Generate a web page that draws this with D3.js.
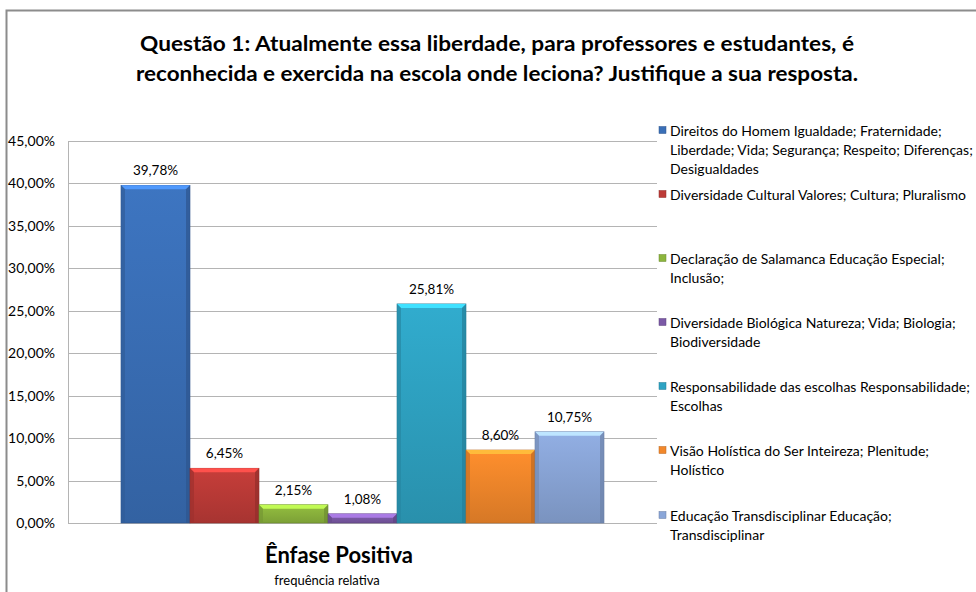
<!DOCTYPE html>
<html>
<head>
<meta charset="utf-8">
<script src="https://cdn.jsdelivr.net/npm/d3@7"></script>
<style>
  body { margin: 0; background: #fff; }
  svg { display: block; font-family: Lato, "Open Sans", sans-serif; }
</style>
</head>
<body>
<script>
const w = 976;
const h = 592;

// data
const legendLines = [
  ["Direitos do Homem Igualdade; Fraternidade;", "Liberdade; Vida; Segurança; Respeito; Diferenças;", "Desigualdades"],
  ["Diversidade Cultural Valores; Cultura; Pluralismo"],
  ["Declaração de Salamanca Educação Especial;", "Inclusão;"],
  ["Diversidade Biológica Natureza; Vida; Biologia;", "Biodiversidade"],
  ["Responsabilidade das escolhas Responsabilidade;", "Escolhas"],
  ["Visão Holística do Ser Inteireza;  Plenitude;", "Holístico"],
  ["Educação Transdisciplinar Educação;", "Transdisciplinar"]
];
const values = [39.78, 6.45, 2.15, 1.08, 25.81, 8.60, 10.75];
const colors = ["#3a6fb7", "#bd3b37", "#8cb53d", "#7b59a6", "#2ea3c3", "#f2882b", "#8aa6d8"];
const yTicks = [0, 5, 10, 15, 20, 25, 30, 35, 40, 45];
const title = [
  "Questão 1: Atualmente essa liberdade, para professores e estudantes, é",
  "reconhecida e exercida na escola onde leciona? Justifique a sua resposta."
];
const groupLabel = "Ênfase Positiva";
const axisTitle = "frequência relativa";

const fmt = (v) => v.toFixed(2).replace(".", ",") + "%";

// SVG

const svg = d3.select("body").append("svg").attr("width", w).attr("height", h);

// chart border
svg.append("rect")
  .attr("x", 6.5).attr("y", 10.5)
  .attr("width", w + 10).attr("height", h + 10)
  .attr("fill", "none").attr("stroke", "#8c8c8c").attr("stroke-width", 2);

// Title
svg.append("g")
  .selectAll("text")
  .data(title)
  .join("text")
  .attr("x", 497)
  .attr("y", (d, i) => 51 + i * 30)
  .attr("text-anchor", "middle")
  .attr("font-weight", "bold")
  .attr("font-size", 21.5)
  .attr("fill", "#000")
  .text((d) => d)
  .attr("textLength", (d, i) => (i === 0 ? 714 : 722))
  .attr("lengthAdjust", "spacingAndGlyphs");

// Scales

const plot = { left: 68, right: 657, top: 141, bottom: 523 };

const y = d3.scaleLinear().domain([0, 45]).range([plot.bottom, plot.top]);

const x = d3.scaleBand()
  .domain(d3.range(values.length))
  .range([121, 604])
  .paddingInner(0);

// Grid

svg.append("g")
  .selectAll("line")
  .data(yTicks)
  .join("line")
  .attr("x1", plot.left)
  .attr("x2", plot.right)
  .attr("y1", (d) => Math.round(y(d)) + 0.5)
  .attr("y2", (d) => Math.round(y(d)) + 0.5)
  .attr("stroke", "#b4b4b4")
  .attr("stroke-width", 1);

svg.append("line")
  .attr("x1", plot.left + 0.5).attr("x2", plot.left + 0.5)
  .attr("y1", plot.top).attr("y2", plot.bottom + 0.5)
  .attr("stroke", "#b4b4b4");

// Y axis labels

const yAxis = d3.axisLeft(y).tickValues(yTicks).tickSize(0).tickPadding(13)
  .tickFormat((d) => fmt(d));

svg.append("g")
  .attr("transform", `translate(${plot.left},0)`)
  .call(yAxis)
  .call((g) => g.select(".domain").remove())
  .selectAll("text")
  .attr("font-family", "Lato, sans-serif")
  .attr("font-size", 14)
  .attr("fill", "#000");

// Gradients

const defs = svg.append("defs");

colors.forEach((c, i) => {
  const g = defs.append("linearGradient")
    .attr("id", "grad" + i)
    .attr("x1", 0).attr("y1", 0).attr("x2", 0).attr("y2", 1);
  g.append("stop").attr("offset", "0%").attr("stop-color", d3.color(c).brighter(0.15));
  g.append("stop").attr("offset", "100%").attr("stop-color", d3.color(c).darker(0.35));
});

// Bars

const bars = svg.append("g")
  .selectAll("g")
  .data(values)
  .join("g");

bars.append("rect")
  .attr("x", (d, i) => x(i))
  .attr("y", (d) => y(d))
  .attr("width", x.bandwidth())
  .attr("height", (d) => y(0) - y(d))
  .attr("fill", (d, i) => `url(#grad${i})`)
  .attr("stroke", (d, i) => d3.color(colors[i]).darker(0.8))
  .attr("stroke-width", 0.6);

// bevel: top highlight strip
bars.append("path")
  .attr("d", (d, i) => {
    const x0 = x(i), x1 = x(i) + x.bandwidth(), y0 = y(d), b = Math.min(4, (y(0) - y(d)) / 2);
    return `M${x0},${y0}L${x1},${y0}L${x1 - b},${y0 + b}L${x0 + b},${y0 + b}Z`;
  })
  .attr("fill", (d, i) => d3.color(colors[i]).brighter(0.9));

// bevel: side shading
bars.append("path")
  .attr("d", (d, i) => {
    const x0 = x(i), y0 = y(d), y1 = y(0), b = Math.min(4, (y1 - y0) / 2);
    return `M${x0},${y0}L${x0 + b},${y0 + b}L${x0 + b},${y1}L${x0},${y1}Z`;
  })
  .attr("fill", (d, i) => d3.color(colors[i]).darker(0.5))
  .attr("opacity", 0.7);

bars.append("path")
  .attr("d", (d, i) => {
    const x1 = x(i) + x.bandwidth(), y0 = y(d), y1 = y(0), b = Math.min(4, (y1 - y0) / 2);
    return `M${x1},${y0}L${x1 - b},${y0 + b}L${x1 - b},${y1}L${x1},${y1}Z`;
  })
  .attr("fill", (d, i) => d3.color(colors[i]).darker(0.7))
  .attr("opacity", 0.7);

// Value labels

bars.append("text")
  .attr("x", (d, i) => x(i) + x.bandwidth() / 2)
  .attr("y", (d) => y(d) - 10)
  .attr("text-anchor", "middle")
  .attr("font-size", 13.5)
  .attr("fill", "#000")
  .text((d) => fmt(d));

// X axis label

svg.append("text")
  .attr("x", 339).attr("y", 563)
  .attr("text-anchor", "middle")
  .attr("font-weight", "bold")
  .attr("font-size", 22)
  .text(groupLabel);

svg.append("text")
  .attr("x", 327).attr("y", 585)
  .attr("text-anchor", "middle")
  .attr("font-size", 13)
  .text(axisTitle);

// Legend

const legendY = [131, 195, 259, 323, 387, 451, 516];

const legend = svg.append("g")
  .selectAll("g")
  .data(legendLines)
  .join("g")
  .attr("transform", (d, i) => `translate(659,${legendY[i]})`);

legend.append("rect")
  .attr("x", 0).attr("y", -4.5)
  .attr("width", 7).attr("height", 7)
  .attr("fill", (d, i) => colors[i])
  .attr("stroke", (d, i) => d3.color(colors[i]).darker(0.8))
  .attr("stroke-width", 0.5);

legend.append("text")
  .attr("font-size", 14)
  .attr("fill", "#000")
  .selectAll("tspan")
  .data((d) => d)
  .join("tspan")
  .attr("x", 11)
  .attr("y", (d, i) => 5 + i * 19)
  .text((d) => d);
</script>
</body>
</html>
